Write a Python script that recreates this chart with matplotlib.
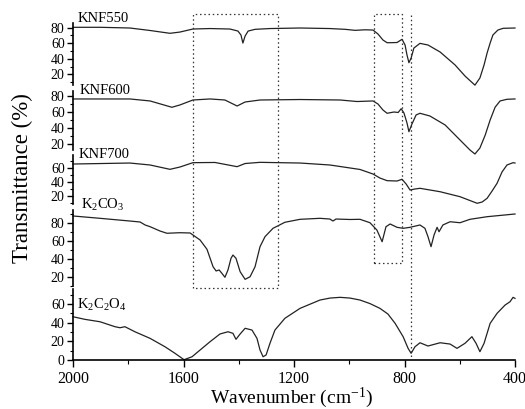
import matplotlib
matplotlib.use("Agg")
import matplotlib.pyplot as plt
from matplotlib.lines import Line2D
from matplotlib import transforms
from matplotlib.ticker import FixedLocator, NullLocator

plt.rcParams['font.family'] = ['Liberation Serif', 'DejaVu Serif']
plt.rcParams['mathtext.fontset'] = 'custom'
plt.rcParams['mathtext.rm'] = 'Liberation Serif'
plt.rcParams['mathtext.it'] = 'Liberation Serif:italic'

# ---------------- data ----------------
knf550_w = [2000,1902,1794,1721,1649,1613,1566,1504,1432,1403,1392,1385,1377,1366,1341,1287,1178,1070,1015,979,
            943,914,896,878,863,845,827,816,809,798,791,784,776,766,744,715,671,617,581,545,527,512,501,490,480,462,443,400]
knf550_t = [80.3,80.3,79.4,76.2,72.6,74.2,78.1,78.7,78.1,75.5,70.4,60.1,69.1,75.5,77.7,78.7,79.4,78.7,77.7,76.4,
            77.1,76.8,71.7,64.0,60.5,60.6,60.8,63.3,64.9,57.6,44.8,34.9,40.9,53.7,59.7,57.6,48.6,32.0,17.8,6.1,15.3,32.0,47.3,60.1,70.4,76.8,79.0,79.4]

knf600_w = [2000,1794,1721,1642,1613,1566,1504,1450,1406,1377,1323,1178,1033,972,914,896,878,863,838,823,
            812,802,791,784,773,758,744,708,653,599,563,545,527,508,490,472,454,429,400]
knf600_t = [76.3,76.3,73.8,65.9,68.8,75,76.3,75,67.5,72.5,75,75.6,75,73.1,73.8,70,62.5,58.4,60,59.4,
            64.1,58.8,46.3,35.4,45,56.3,58.4,55,43.8,25,12.5,7.5,15,31,50,66,73.8,75.9,76.3]

knf700_w = [2000,1794,1721,1649,1613,1566,1486,1406,1377,1323,1178,1070,961,914,889,863,827,809,794,780,
            762,744,671,599,537,519,501,483,465,447,429,407,400]
knf700_t = [65.7,67.1,64.3,58.1,61.4,67.6,67.9,61.9,66.4,68.1,67.1,64.3,57.9,51.4,45.7,41.9,41.4,43.9,37.1,28.6,
            30,31,26.1,19,9.6,11.4,16.7,27.1,38.1,54.3,64.3,67.6,67.1]

k2co3_w = [2000,1902,1794,1757,1739,1721,1685,1660,1613,1576,1540,1515,1493,1482,1471,1461,1450,1439,1428,1421,
           1410,1395,1377,1359,1341,1323,1305,1276,1233,1178,1106,1070,1059,1048,997,961,925,900,881,867,
           852,827,805,780,744,726,715,704,693,682,675,661,635,599,563,501,400]
k2co3_t = [87.8,85.2,82.2,81.1,77.8,75.9,71.1,68.6,69.2,68.9,61.1,50.8,31.4,26.7,27.8,24.1,19.7,27.8,40.8,44.4,
           40.8,25.9,17.4,20.3,31.4,53.7,64.8,74.1,80.8,84.1,85.2,84.4,82.2,84.4,83.9,84.1,80.3,72.2,59.2,75.9,
           78.9,75.2,74.1,75.2,77.8,74.1,64.8,53.7,66.7,75.2,70.3,77.8,81.4,80.3,84.1,87,90]

k2c2o4_w = [2000,1957,1902,1848,1830,1812,1776,1721,1667,1631,1598,1569,1540,1504,1468,1439,1421,1410,1395,1377,
            1352,1334,1323,1312,1301,1287,1269,1233,1178,1106,1070,1033,997,961,925,889,860,834,805,787,
            776,762,744,715,671,635,610,581,556,541,527,512,490,465,436,418,407,400]
k2c2o4_t = [46.4,43.6,41,35.7,34.6,35.7,30.3,23.2,14.2,7.2,0.3,3.5,10.7,19.6,27.9,30.3,28.6,22.2,27.9,34,
            32.1,23.2,10.7,3.5,5.4,17.9,32.1,44.7,55.4,64.3,66.4,67.2,66.4,64.3,60.5,55.4,49.3,39.3,25,12.5,
            7.2,14.2,18.5,15,18.5,17.1,12.5,17.9,25,17.9,8.9,17.9,39.3,50,58.9,62.5,67.2,66.1]

labels = ['KNF550', 'KNF600', 'KNF700', r'K$_{2}$CO$_{3}$', r'K$_{2}$C$_{2}$O$_{4}$']
series = [(knf550_w, knf550_t), (knf600_w, knf600_t), (knf700_w, knf700_t),
          (k2co3_w, k2co3_t), (k2c2o4_w, k2c2o4_t)]

x_ticks = [2000, 1600, 1200, 800, 400]
x_minor = [1800, 1400, 1000, 600]

# highlighted regions (wavenumber) and marker line
regions = [(1565, 1258), (910, 809)]
marker_w = 778

# ---------------- layout ----------------
W, H = 525, 409
fig = plt.figure(figsize=(W / 100, H / 100), dpi=100)
X0, X1 = 73, 515
# (top_px, bottom_px, ylim, spine_bounds, label_px)
panels = [
    (21.3, 89.9, (0, 88), (6, 86), (78, 22)),
    (89.6, 160.0, (0, 88), (12, 86), (80, 94)),
    (154.0, 210.0, (0, 80), (8, 78), (79, 158)),
    (205.0, 290.5, (5, 100), (10, 94), (81, 209)),
    (288.2, 360.0, (0, 77), (0, 76), (77, 309)),
]

axes = []
for i, ((w, t), (top, bot, yl, sb, lp)) in enumerate(zip(series, panels)):
    ax = fig.add_axes([X0 / W, 1 - bot / H, (X1 - X0) / W, (bot - top) / H])
    ax.patch.set_alpha(0)
    ax.plot(w, t, color='#222222', lw=0.9, clip_on=False)
    ax.set_xlim(2000, 400)
    ax.set_ylim(*yl)
    for s in ['top', 'right']:
        ax.spines[s].set_visible(False)
    ax.spines['left'].set_bounds(*sb)
    ax.spines['left'].set_linewidth(1.2)
    maj = [v for v in range(0, 101, 20) if sb[0] <= v <= sb[1]]
    mnr = [v for v in range(0, 101, 10) if sb[0] <= v <= sb[1] and v % 20]
    ax.yaxis.set_major_locator(FixedLocator(maj))
    ax.yaxis.set_minor_locator(FixedLocator(mnr))
    ax.tick_params(axis='y', which='major', direction='out', length=4, width=1, pad=2, labelsize=10)
    ax.tick_params(axis='y', which='minor', direction='out', length=2.5, width=0.8)
    if i < 4:
        ax.spines['bottom'].set_visible(False)
        ax.xaxis.set_major_locator(NullLocator())
        ax.xaxis.set_minor_locator(NullLocator())
    else:
        ax.spines['bottom'].set_linewidth(1.2)
        ax.xaxis.set_major_locator(FixedLocator(x_ticks))
        ax.xaxis.set_minor_locator(FixedLocator(x_minor))
        ax.tick_params(axis='x', which='major', direction='out', length=5, width=1, pad=3, labelsize=11.5)
        ax.tick_params(axis='x', which='minor', direction='out', length=3, width=0.8)
        ax.set_xticklabels([str(v) for v in x_ticks])
    fig.text(lp[0] / W, 1 - lp[1] / H, labels[i], fontsize=10.5, ha='left', va='baseline')
    axes.append(ax)

fig.text(292 / W, 1 - 403 / H, 'Wavenumber (cm$^{-1}$)', fontsize=14, ha='center', va='baseline')
fig.text(22 / W, 1 - 178 / H, 'Transmittance (%)', fontsize=16.5, ha='center', va='center', rotation=90)

# dotted boxes and line, x in data, y in figure fraction
tr = transforms.blended_transform_factory(axes[-1].transData, fig.transFigure)
box_ys = [(1 - 14 / H, 1 - 288 / H), (1 - 14 / H, 1 - 263 / H)]
for (wa, wb), (yt, yb) in zip(regions, box_ys):
    fig.add_artist(Line2D([wa, wa, wb, wb, wa], [yb, yt, yt, yb, yb], transform=tr,
                          color='#333333', lw=0.9, ls=(0, (1.2, 2.2))))
fig.add_artist(Line2D([marker_w, marker_w], [1 - 15 / H, 1 - 360 / H], transform=tr,
                      color='#333333', lw=0.9, ls=(0, (1.2, 2.2))))

fig.savefig('out.png', dpi=100)
